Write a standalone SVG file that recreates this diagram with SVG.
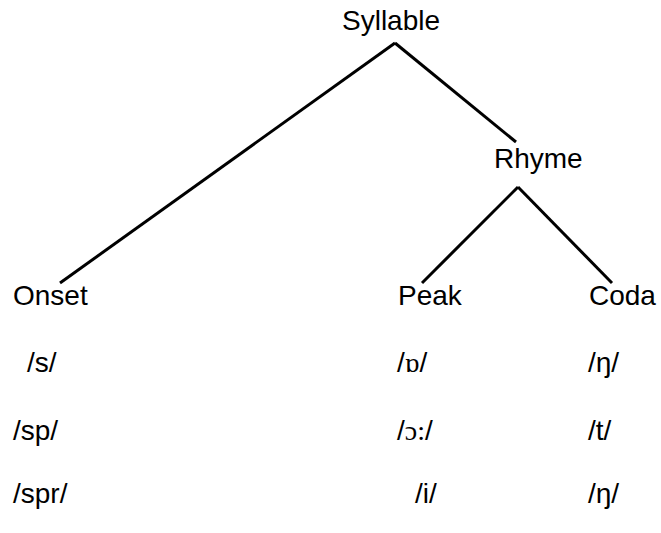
<svg xmlns="http://www.w3.org/2000/svg" width="661" height="533" viewBox="0 0 661 533">
  <style>
    .lbl { font-family: "Liberation Sans", Arial, sans-serif; font-size: 28px; fill: #000; }
    .ipa { font-family: "Liberation Serif", "Times New Roman", serif; }
    .edge { stroke: #000; stroke-width: 3; fill: none; stroke-linecap: butt; }
  </style>
  <rect width="661" height="533" fill="#fff"/>
  <g id="connectors">
    <line class="edge" x1="395" y1="43" x2="60" y2="283"/>
    <line class="edge" x1="395" y1="43" x2="516" y2="142"/>
    <line class="edge" x1="518" y1="187" x2="422" y2="283"/>
    <line class="edge" x1="518" y1="187" x2="612" y2="283"/>
  </g>
  <g id="syllable"><text class="lbl" x="342" y="30">Syllable</text></g>
  <g id="rhyme"><text class="lbl" x="494" y="168">Rhyme</text></g>
  <g id="onset"><text class="lbl" x="13" y="305">Onset</text></g>
  <g id="peak"><text class="lbl" x="398" y="305">Peak</text></g>
  <g id="coda"><text class="lbl" x="589" y="305">Coda</text></g>
  <g id="onset-examples">
    <text class="lbl" x="27" y="372">/s/</text>
    <text class="lbl" x="13" y="440">/sp/</text>
    <text class="lbl" x="13" y="503">/spr/</text>
  </g>
  <g id="peak-examples">
    <text class="lbl" x="397" y="372">/<tspan class="ipa">ɒ</tspan>/</text>
    <text class="lbl" x="397" y="440">/<tspan class="ipa">ɔ:</tspan>/</text>
    <text class="lbl" x="415" y="503">/i/</text>
  </g>
  <g id="coda-examples">
    <text class="lbl" x="588" y="372">/ŋ/</text>
    <text class="lbl" x="588" y="440">/t/</text>
    <text class="lbl" x="588" y="503">/ŋ/</text>
  </g>
</svg>
